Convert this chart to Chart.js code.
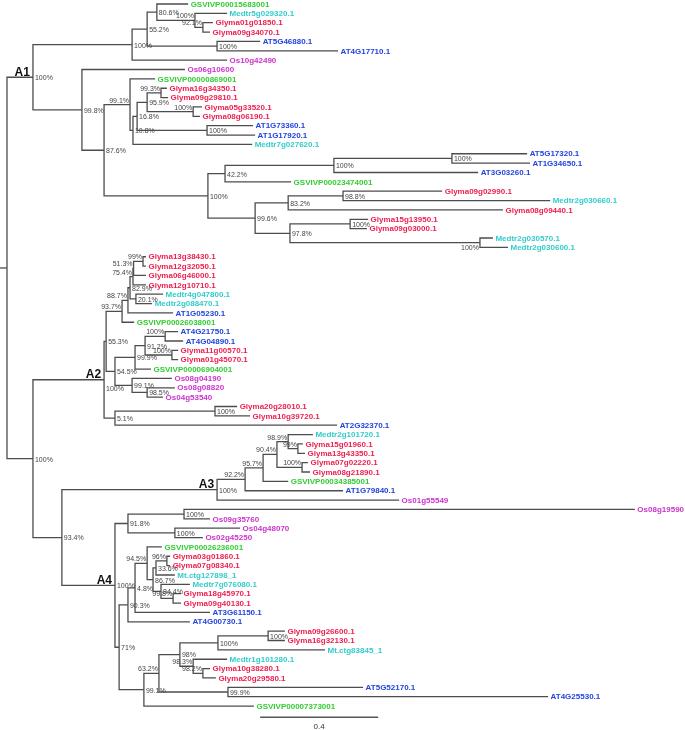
<!DOCTYPE html>
<html lang="en">
<head>
<meta charset="UTF-8">
<title>Phylogenetic tree</title>
<script src="https://cdn.jsdelivr.net/npm/chart.js"></script>
<style>
  html, body { margin: 0; padding: 0; background: #fff; }
</style>
</head>
<body>
<canvas id="tree" width="685" height="730"></canvas>
<script>
// leaves, top to bottom (row index = position in this list)
const leafNames = [
  'GSVIVP00015683001', 'Medtr5g029320.1', 'Glyma01g01850.1', 'Glyma09g34070.1', 'AT5G46880.1',
  'AT4G17710.1', 'Os10g42490', 'Os06g10600', 'GSVIVP00000869001', 'Glyma16g34350.1',
  'Glyma09g29810.1', 'Glyma05g33520.1', 'Glyma08g06190.1', 'AT1G73360.1', 'AT1G17920.1',
  'Medtr7g027620.1', 'AT5G17320.1', 'AT1G34650.1', 'AT3G03260.1', 'GSVIVP00023474001',
  'Glyma09g02990.1', 'Medtr2g030660.1', 'Glyma08g09440.1', 'Glyma15g13950.1', 'Glyma09g03000.1',
  'Medtr2g030570.1', 'Medtr2g030600.1', 'Glyma13g38430.1', 'Glyma12g32050.1', 'Glyma06g46000.1',
  'Glyma12g10710.1', 'Medtr4g047800.1', 'Medtr2g088470.1', 'AT1G05230.1', 'GSVIVP00026038001',
  'AT4G21750.1', 'AT4G04890.1', 'Glyma11g00570.1', 'Glyma01g45070.1', 'GSVIVP00006904001',
  'Os08g04190', 'Os08g08820', 'Os04g53540', 'Glyma20g28010.1', 'Glyma10g39720.1',
  'AT2G32370.1', 'Medtr2g101720.1', 'Glyma15g01960.1', 'Glyma13g43350.1', 'Glyma07g02220.1',
  'Glyma08g21890.1', 'GSVIVP00034385001', 'AT1G79840.1', 'Os01g55549', 'Os08g19590',
  'Os09g35760', 'Os04g48070', 'Os02g45250', 'GSVIVP00026236001', 'Glyma03g01860.1',
  'Glyma07g08340.1', 'Mt.ctg127898_1', 'Medtr7g076080.1', 'Glyma18g45970.1', 'Glyma09g40130.1',
  'AT3G61150.1', 'AT4G00730.1', 'Glyma09g26600.1', 'Glyma16g32130.1', 'Mt.ctg83845_1',
  'Medtr1g101280.1', 'Glyma10g38280.1', 'Glyma20g29580.1', 'AT5G52170.1', 'AT4G25530.1',
  'GSVIVP00007373001'
];

// distance of each tip from the root
const leafDepth = [
  0.614, 0.746, 0.698, 0.688, 0.858, 1.122, 0.746, 0.603, 0.502, 0.542,
  0.546, 0.661, 0.654, 0.834, 0.841, 0.831, 1.763, 1.773, 1.597, 0.963,
  1.475, 1.841, 1.681, 1.224, 1.220, 1.647, 1.698, 0.471, 0.471, 0.471,
  0.471, 0.529, 0.492, 0.563, 0.431, 0.580, 0.597, 0.580, 0.580, 0.488,
  0.559, 0.569, 0.529, 0.780, 0.824, 1.119, 1.037, 1.003, 1.010, 1.020,
  1.027, 0.953, 1.139, 1.329, 2.128, 0.688, 0.790, 0.664, 0.525, 0.553,
  0.553, 0.569, 0.620, 0.590, 0.590, 0.688, 0.620, 0.942, 0.942, 1.078,
  0.746, 0.688, 0.708, 1.207, 1.834, 0.837
];

// internal nodes: [id, depth, bootstrap, children, label side]
// numbers in children are leaf rows, strings are node ids
const nodes = [
  ['R', 0, '', ['A1', 'B'], ''],
  ['A1', 0.088, '100%', ['a1a', 'a1b'], 'r'],
  ['a1a', 0.424, '100%', ['n55_2', 6], 'r'],
  ['n55_2', 0.475, '55.2%', ['n80_6', 'n100c'], 'r'],
  ['n80_6', 0.508, '80.6%', [0, 'n100b'], 'r'],
  ['n100b', 0.637, '100%', [1, 'n92_1'], 'l'],
  ['n92_1', 0.664, '92.1%', [2, 3], 'l'],
  ['n100c', 0.712, '100%', [4, 5], 'r'],
  ['a1b', 0.254, '99.8%', [7, 'n87_6'], 'r'],
  ['n87_6', 0.329, '87.6%', ['n99_1', 'n100d'], 'r'],
  ['n99_1', 0.417, '99.1%', [8, 'n10_8'], 'l'],
  ['n10_8', 0.427, '10.8%', ['n16_8', 15], 'r'],
  ['n16_8', 0.441, '16.8%', ['n95_9', 'n100e'], 'r'],
  ['n95_9', 0.475, '95.9%', ['n99_3', 'n100f'], 'r'],
  ['n99_3', 0.522, '99.3%', [9, 10], 'l'],
  ['n100f', 0.631, '100%', [11, 12], 'l'],
  ['n100e', 0.678, '100%', [13, 14], 'r'],
  ['n100d', 0.681, '100%', ['n42_2', 'n99_6'], 'r'],
  ['n42_2', 0.739, '42.2%', ['n100g', 19], 'r'],
  ['n100g', 1.108, '100%', ['n100h', 18], 'r'],
  ['n100h', 1.508, '100%', [16, 17], 'r'],
  ['n99_6', 0.841, '99.6%', ['n83_2', 'n97_8'], 'r'],
  ['n83_2', 0.953, '83.2%', ['n98_8', 22], 'r'],
  ['n98_8', 1.139, '98.8%', [20, 21], 'r'],
  ['n97_8', 0.959, '97.8%', ['n100i', 'n100j'], 'r'],
  ['n100i', 1.163, '100%', [23, 24], 'r'],
  ['n100j', 1.603, '100%', [25, 26], 'lb'],

  ['B', 0.088, '100%', ['A2', 'n93_4'], 'r'],
  ['A2', 0.329, '100%', ['n55_3', 'n5_1'], 'rb'],
  ['n55_3', 0.336, '55.3%', ['n93_7', 'n54_5'], 'r'],
  ['n93_7', 0.390, '93.7%', ['n88_7', 34], 'l'],
  ['n88_7', 0.410, '88.7%', ['n82_9', 33], 'l'],
  ['n82_9', 0.417, '82.9%', ['n75_4', 'n20_1'], 'r'],
  ['n75_4', 0.427, '75.4%', ['n51_3', 30], 'l'],
  ['n51_3', 0.429, '51.3%', ['n99a', 29], 'l'],
  ['n99a', 0.461, '99%', [27, 28], 'l'],
  ['n20_1', 0.437, '20.1%', [31, 32], 'r'],
  ['n54_5', 0.366, '54.5%', ['n99_9', 'n99_1b'], 'r'],
  ['n99_9', 0.434, '99.9%', ['n91_2', 39], 'r'],
  ['n91_2', 0.468, '91.2%', ['n100k', 'n100l'], 'r'],
  ['n100k', 0.536, '100%', [35, 36], 'l'],
  ['n100l', 0.559, '100%', [37, 38], 'l'],
  ['n99_1b', 0.424, '99.1%', [40, 'n98_5'], 'r'],
  ['n98_5', 0.475, '98.5%', [41, 42], 'r'],
  ['n5_1', 0.366, '5.1%', ['n100m', 45], 'r'],
  ['n100m', 0.705, '100%', [43, 44], 'r'],
  ['n93_4', 0.186, '93.4%', ['A3', 'A4'], 'r'],
  ['A3', 0.712, '100%', ['n92_2', 53], 'r'],
  ['n92_2', 0.807, '92.2%', ['n95_7', 52], 'l'],
  ['n95_7', 0.868, '95.7%', ['n90_4', 51], 'l'],
  ['n90_4', 0.915, '90.4%', ['n98_9', 'n100n'], 'l'],
  ['n98_9', 0.953, '98.9%', [46, 'n99b'], 'l'],
  ['n99b', 0.986, '99%', [47, 48], 'l'],
  ['n100n', 1.000, '100%', [49, 50], 'l'],
  ['A4', 0.366, '100%', ['n91_8', 'n71'], 'r'],
  ['n91_8', 0.410, '91.8%', ['n100o', 'n100p'], 'r'],
  ['n100o', 0.600, '100%', [54, 55], 'r'],
  ['n100p', 0.569, '100%', [56, 57], 'r'],
  ['n71', 0.380, '71%', ['n90_3', 'n99_1c'], 'r'],
  ['n90_3', 0.410, '90.3%', ['n4_8', 66], 'r'],
  ['n4_8', 0.434, '4.8%', ['n94_5', 65], 'r'],
  ['n94_5', 0.475, '94.5%', [58, 'n86_7'], 'l'],
  ['n86_7', 0.495, '86.7%', ['n33_6', 'n84_4'], 'r'],
  ['n33_6', 0.505, '33.6%', ['n96', 61], 'r'],
  ['n96', 0.542, '96%', [59, 60], 'l'],
  ['n84_4', 0.522, '84.4%', [62, 'n99_8'], 'r'],
  ['n99_8', 0.563, '99.8%', [63, 64], 'l'],
  ['n99_1c', 0.464, '99.1%', ['n63_2', 75], 'r'],
  ['n63_2', 0.515, '63.2%', ['n98', 'n99_9b'], 'l'],
  ['n98', 0.586, '98%', ['n100q', 'n98_3'], 'r'],
  ['n100q', 0.715, '100%', ['n100r', 69], 'r'],
  ['n100r', 0.885, '100%', [67, 68], 'r'],
  ['n98_3', 0.631, '98.3%', [70, 'n98_2'], 'l'],
  ['n98_2', 0.664, '98.2%', [71, 72], 'l'],
  ['n99_9b', 0.749, '99.9%', [73, 74], 'r']
];

const cladeNames = ['A1', 'A2', 'A3', 'A4'];
const scaleBarLength = 0.4;
const scaleBarStart = 0.858;

// ---- geometry helpers ----
const nodeById = {};
nodes.forEach(n => { nodeById[n[0]] = n; });

function depthOf(k) {
  return typeof k === 'number' ? leafDepth[k] : nodeById[k][1];
}
const midCache = {};
function midOf(k) {
  if (typeof k === 'number') return k;
  if (midCache[k] === undefined) {
    const kids = nodeById[k][3];
    midCache[k] = (midOf(kids[0]) + midOf(kids[kids.length - 1])) / 2;
  }
  return midCache[k];
}

function leafColor(name) {
  if (name.startsWith('GSVIVP')) return '#33cc33';
  if (name.startsWith('Medtr') || name.startsWith('Mt.')) return '#33cccc';
  if (name.startsWith('Glyma')) return '#ee1f4f';
  if (name.startsWith('AT')) return '#2244dd';
  return '#cc33cc';
}

const lineColor = '#4d4d4d';
const datasets = [];

// one bracket per internal node
nodes.forEach(n => {
  const [id, d, , kids] = n;
  const first = kids[0], last = kids[kids.length - 1];
  const pts = [
    { x: depthOf(first), y: midOf(first) },
    { x: d, y: midOf(first) },
    { x: d, y: midOf(last) },
    { x: depthOf(last), y: midOf(last) }
  ];
  datasets.push({ data: pts, borderColor: lineColor, borderWidth: 1.3, showLine: true, pointRadius: 0, fill: false, tension: 0 });
});

// root stub
const xMin = -0.0237, xMax = 2.298;
datasets.push({ data: [{ x: xMin, y: midOf('R') }, { x: 0, y: midOf('R') }], borderColor: lineColor, borderWidth: 1.3, showLine: true, pointRadius: 0 });

// scale bar
const scaleRow = 76.2;
datasets.push({ data: [{ x: scaleBarStart, y: scaleRow }, { x: scaleBarStart + scaleBarLength, y: scaleRow }], borderColor: '#555', borderWidth: 1.5, showLine: true, pointRadius: 0 });

const FONT = '"Liberation Sans", Arial, sans-serif';

const treeText = {
  id: 'treeText',
  afterDatasetsDraw(chart) {
    const ctx = chart.ctx;
    const xs = chart.scales.x, ys = chart.scales.y;
    ctx.save();

    // tip labels
    ctx.font = 'bold 8px ' + FONT;
    ctx.textAlign = 'left';
    ctx.textBaseline = 'middle';
    leafNames.forEach((name, i) => {
      ctx.fillStyle = leafColor(name);
      ctx.fillText(name, xs.getPixelForValue(leafDepth[i]) + 2.5, ys.getPixelForValue(i) + 0.5);
    });

    // bootstrap values
    ctx.font = '7px ' + FONT;
    ctx.fillStyle = '#444';
    nodes.forEach(n => {
      const [id, d, sup, , side] = n;
      if (!sup) return;
      const px = xs.getPixelForValue(d);
      const py = ys.getPixelForValue(midOf(id));
      if (side === 'r') {
        ctx.textAlign = 'left'; ctx.textBaseline = 'middle';
        ctx.fillText(sup, px + 2, py + 1);
      } else if (side === 'rb') {
        ctx.textAlign = 'left'; ctx.textBaseline = 'middle';
        ctx.fillText(sup, px + 2, py + 9);
      } else if (side === 'lb') {
        ctx.textAlign = 'right'; ctx.textBaseline = 'top';
        ctx.fillText(sup, px - 1, py + 1.5);
      } else {
        ctx.textAlign = 'right'; ctx.textBaseline = 'bottom';
        ctx.fillText(sup, px - 1, py - 0.5);
      }
    });

    // clade names
    ctx.font = 'bold 12px ' + FONT;
    ctx.fillStyle = '#111';
    ctx.textAlign = 'right';
    ctx.textBaseline = 'alphabetic';
    cladeNames.forEach(c => {
      ctx.fillText(c, xs.getPixelForValue(nodeById[c][1]) - 3, ys.getPixelForValue(midOf(c)) - 1.5);
    });

    // scale bar label
    ctx.font = '8px ' + FONT;
    ctx.fillStyle = '#333';
    ctx.textAlign = 'center';
    ctx.textBaseline = 'middle';
    ctx.fillText(String(scaleBarLength), xs.getPixelForValue(scaleBarStart + scaleBarLength / 2), ys.getPixelForValue(scaleRow + 1.0));

    ctx.restore();
  }
};

new Chart(document.getElementById('tree').getContext('2d'), {
  type: 'scatter',
  data: { datasets: datasets },
  options: {
    responsive: false,
    animation: false,
    layout: { padding: 0 },
    plugins: { legend: { display: false }, tooltip: { enabled: false } },
    scales: {
      x: { type: 'linear', min: xMin, max: xMax, display: false },
      y: { type: 'linear', min: -0.427, max: 77.56, reverse: true, display: false }
    }
  },
  plugins: [treeText]
});
</script>
</body>
</html>
